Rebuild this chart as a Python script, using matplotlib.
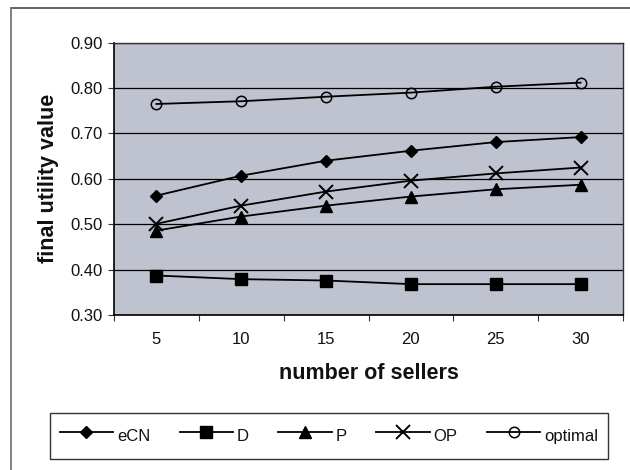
import numpy as np
import matplotlib.pyplot as plt
from matplotlib.lines import Line2D

plt.rcParams['font.family'] = ['Liberation Sans', 'DejaVu Sans']

# number of sellers on the category axis
sellers = ['5', '10', '15', '20', '25', '30']

# final utility value per strategy
eCN = [0.563, 0.607, 0.640, 0.662, 0.681, 0.692]
D = [0.387, 0.379, 0.376, 0.368, 0.368, 0.368]
P = [0.486, 0.517, 0.541, 0.561, 0.577, 0.587]
OP = [0.501, 0.541, 0.572, 0.596, 0.612, 0.625]
optimal = [0.765, 0.771, 0.781, 0.790, 0.803, 0.812]

y_ticks = [0.30, 0.40, 0.50, 0.60, 0.70, 0.80, 0.90]

fig = plt.figure(figsize=(6.3, 4.7), dpi=100)
ax = fig.add_axes([114/630, 1 - 315/470, 509/630, 272.3/470])
ax.set_facecolor('#BFC3D0')

x = np.arange(len(sellers))
series = [
    ('eCN', eCN, dict(marker='D', markersize=6.5, markerfacecolor='black')),
    ('D', D, dict(marker='s', markersize=8, markerfacecolor='black')),
    ('P', P, dict(marker='^', markersize=8.5, markerfacecolor='black')),
    ('OP', OP, dict(marker='x', markersize=9.5, markeredgewidth=1.4)),
    ('optimal', optimal, dict(marker='o', markersize=7.5, markerfacecolor='none',
                              markeredgewidth=1.1)),
]
handles = []
for name, vals, style in series:
    h, = ax.plot(x, vals, color='black', lw=1.3, markeredgecolor='black',
                 label=name, zorder=3, **style)
    handles.append(h)

ax.set_ylim(0.30, 0.90)
ax.set_yticks(y_ticks)
ax.set_yticklabels([f'{v:.2f}' for v in y_ticks])
ax.grid(axis='y', color='black', lw=0.9)
ax.set_axisbelow(True)

# category axis: ticks between groups, labels centred on groups
ax.set_xlim(-0.5, len(sellers) - 0.5)
ax.set_xticks(np.arange(len(sellers) + 1) - 0.5)
ax.set_xticklabels([])
ax.set_xticks(x, minor=True)
ax.set_xticklabels(sellers, minor=True)
ax.tick_params(axis='x', which='major', length=4, direction='out', color='#333')
ax.tick_params(axis='x', which='minor', length=0, pad=12, labelsize=12,
               labelcolor='#111')
ax.tick_params(axis='y', length=4, direction='out', labelsize=12,
               labelcolor='#111', pad=4, color='#333')

for side in ['left', 'bottom']:
    ax.spines[side].set_color('black')
    ax.spines[side].set_linewidth(1.2)
for side in ['top', 'right']:
    ax.spines[side].set_color('#333')
    ax.spines[side].set_linewidth(1.0)

ax.set_ylabel('final utility value', fontsize=15.5, fontweight='bold',
              color='#111', labelpad=8)
ax.set_xlabel('number of sellers', fontsize=15.5, fontweight='bold',
              color='#111', labelpad=12)

leg = fig.legend(handles=handles, loc='center', ncol=5, mode='expand',
                 bbox_to_anchor=(42/630, 1 - 464/470, 574/630, 56/470),
                 fontsize=12, handlelength=3.2, handletextpad=0.25,
                 handleheight=2.2, columnspacing=0.8, fancybox=False,
                 frameon=True, borderpad=0.55)
leg.get_frame().set_edgecolor('black')
leg.get_frame().set_linewidth(1.0)
for t in leg.get_texts():
    t.set_color('#111')

# chart area border (top and left edges)
fig.add_artist(Line2D([11/630, 1], [1 - 8/470, 1 - 8/470], color='#555', lw=1.3))
fig.add_artist(Line2D([11/630, 11/630], [0, 1 - 8/470], color='#777', lw=1.3))

fig.savefig('out.png', dpi=100)
